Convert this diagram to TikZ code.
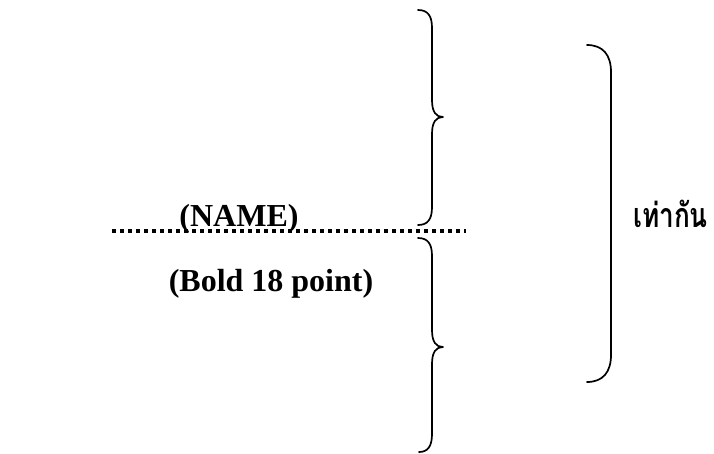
\documentclass[tikz,border=0pt]{standalone}
\usepackage{fontspec}
\setmainfont{Liberation Serif}
\newfontfamily\thaifont[Script=Thai]{Loma}
\begin{document}
\begin{tikzpicture}[x=1pt,y=-1pt,
  brace/.style={line width=1.7pt,line cap=round,line join=round},
  dotline/.style={line width=3.5pt,dash pattern=on 3.5pt off 4.5pt},
  lbl/.style={font=\bfseries\fontsize{32}{36}\selectfont,inner sep=0pt,anchor=base}]
\useasboundingbox[fill=white] (0,0) rectangle (714,453);
% labels
\node[lbl] (name) at (239,226) {(NAME)};
\node[lbl] (size) at (271,291) {(Bold 18 point)};
\node[font=\thaifont\bfseries\fontsize{34}{38}\selectfont,inner sep=0pt,anchor=base west,xscale=0.77] (eq) at (633,227) {เท่ากัน};
% dotted line
\coordinate (dl) at (112,231);
\coordinate (dr) at (466,231);
\draw[dotline] (dl) -- (dr);
% upper brace
\draw[brace] (418,10) .. controls (428,10) and (432,16) .. (432,28)
  -- (432,100) .. controls (432,112) and (436,117) .. (443,117)
  .. controls (436,117) and (432,122) .. (432,134)
  -- (432,207) .. controls (432,219) and (428,225) .. (418,225);
% lower brace
\draw[brace] (418,238) .. controls (428,238) and (432,244) .. (432,256)
  -- (432,330) .. controls (432,342) and (436,347) .. (443,347)
  .. controls (436,347) and (432,352) .. (432,364)
  -- (432,434) .. controls (432,446) and (428,452) .. (419,452);
% right bracket
\draw[brace] (587,45) .. controls (603,45) and (611,55) .. (611,72)
  -- (611,355) .. controls (611,372) and (603,382) .. (587,382);
\end{tikzpicture}
\end{document}
